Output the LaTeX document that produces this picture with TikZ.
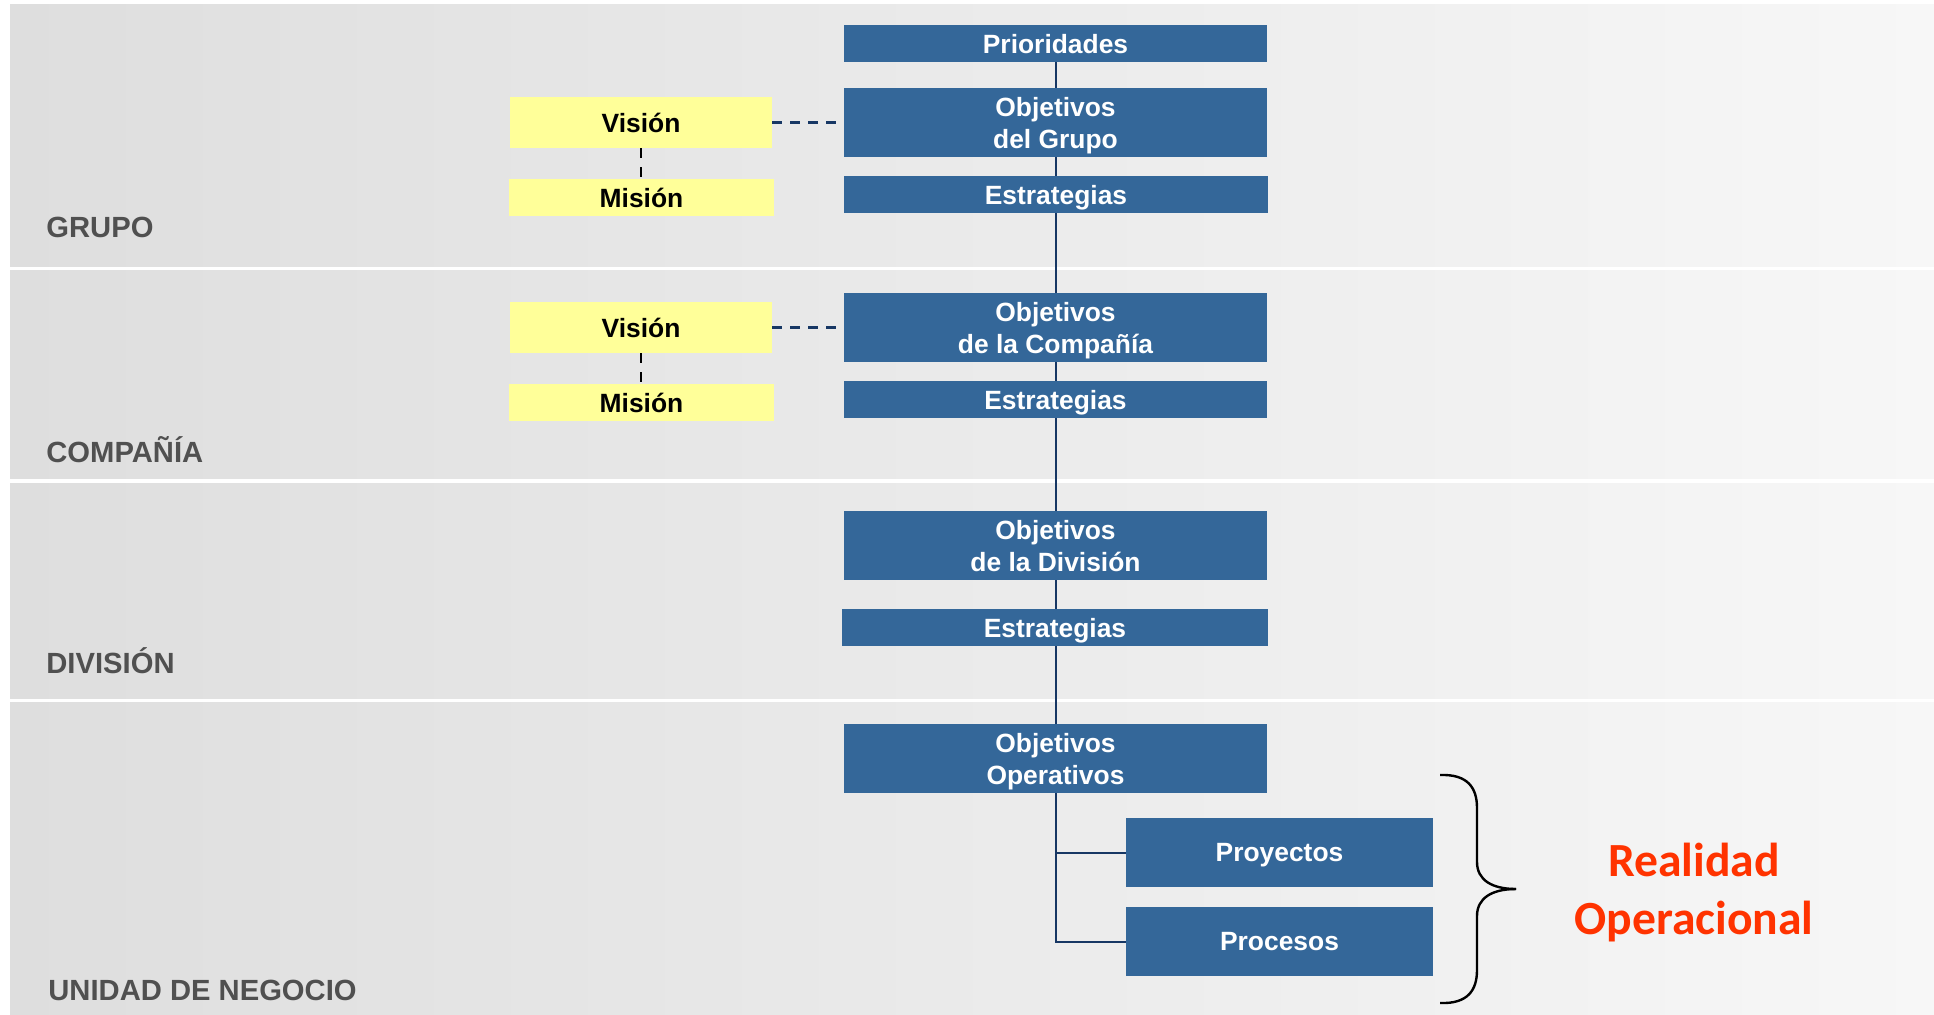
\documentclass[tikz,border=0pt]{standalone}
\usepackage{fontspec}
\setmainfont{Liberation Sans}
\newfontfamily\carl{Carlito}
\definecolor{boxblue}{RGB}{52,103,153}
\definecolor{boxyellow}{RGB}{255,255,153}
\definecolor{navy}{RGB}{23,55,100}
\definecolor{bandL}{RGB}{222,222,222}
\definecolor{bandR}{RGB}{247,247,247}
\definecolor{labgray}{RGB}{80,80,80}
\definecolor{realred}{RGB}{255,51,0}
\begin{document}
\begin{tikzpicture}[x=0.5pt,y=-0.5pt,
  band/.style={left color=bandL, right color=bandR, draw=none},
  bluebox/.style={fill=boxblue, text=white, font=\bfseries\fontsize{13.2}{16}\selectfont,
    align=center, inner sep=0pt, text depth=0pt, minimum width=211.5pt},
  yelbox/.style={fill=boxyellow, text=black, font=\bfseries\fontsize{13.2}{16}\selectfont,
    align=center, inner sep=0pt, text depth=0pt},
  bandlabel/.style={anchor=base west, inner sep=0pt, text=labgray, font=\bfseries\fontsize{14.6}{16}\selectfont},
  link/.style={draw=navy, line width=1pt},
  dashlink/.style={draw=navy, line width=1.5pt, dash pattern=on 5pt off 4pt},
  vdash/.style={draw=black, line width=0.9pt, dash pattern=on 5pt off 4.5pt},
  bracestyle/.style={draw=black, line width=1.2pt},
  realtext/.style={text=realred, font=\carl\bfseries\fontsize{23.8}{29}\selectfont, align=center, inner sep=0pt}
]
\useasboundingbox (0,0) rectangle (1934,1014);
\fill[white] (0,0) rectangle (1934,1014);
% bands
\fill[band] (10,4) rectangle (1934,266);
\fill[band] (10,270) rectangle (1934,478);
\fill[band] (10,483) rectangle (1934,698);
\fill[band] (10,702) rectangle (1934,1014);

% band labels
\node[bandlabel] (lg) at (46,237) {GRUPO};
\node[bandlabel] (lc) at (46,462) {COMPAÑÍA};
\node[bandlabel] (ld) at (46,673) {DIVISIÓN};
\node[bandlabel] (lu) at (48,1000) {UNIDAD DE NEGOCIO};

% central column
\node[bluebox, minimum height=18.5pt] (pri) at (1055.5,43.5) {Prioridades};
\node[bluebox, minimum height=34.5pt] (og) at (1055.5,122.5) {Objetivos\\del Grupo};
\node[bluebox, minimum height=18.5pt, minimum width=212pt] (e1) at (1056,194.5) {Estrategias};
\node[bluebox, minimum height=34.5pt] (oc) at (1055.5,327.5) {Objetivos\\de la Compañía};
\node[bluebox, minimum height=18.5pt] (e2) at (1055.5,399.5) {Estrategias};
\node[bluebox, minimum height=34.5pt] (od) at (1055.5,545.5) {Objetivos\\de la División};
\node[bluebox, minimum height=18.5pt, minimum width=213pt] (e3) at (1055,627.5) {Estrategias};
\node[bluebox, minimum height=34.5pt] (oo) at (1055.5,758.5) {Objetivos\\Operativos};
\node[bluebox, minimum height=34.5pt, minimum width=153.5pt] (proy) at (1279.5,852.5) {Proyectos};
\node[bluebox, minimum height=34.5pt, minimum width=153.5pt] (proc) at (1279.5,941.5) {Procesos};

% yellow boxes
\node[yelbox, minimum width=131pt, minimum height=25.5pt] (v1) at (641,122.5) {Visión};
\node[yelbox, minimum width=132.5pt, minimum height=18.5pt] (m1) at (641.5,197.5) {Misión};
\node[yelbox, minimum width=131pt, minimum height=25.5pt] (v2) at (641,327.5) {Visión};
\node[yelbox, minimum width=132.5pt, minimum height=18.5pt] (m2) at (641.5,402.5) {Misión};

% connectors
\draw[link] (pri.south) -- (og.north);
\draw[link] (og.south) -- (og.south |- e1.north);
\draw[link] (og.south |- e1.south) -- (og.south |- oc.north);
\draw[link] (oc.south) -- (oc.south |- e2.north);
\draw[link] (oc.south |- e2.south) -- (od.north);
\draw[link] (od.south) -- (od.south |- e3.north);
\draw[link] (od.south |- e3.south) -- (oo.north);
\draw[link] (oo.south) |- (proc.west);
\draw[link] (oo.south |- proy.west) -- (proy.west);

\draw[dashlink] (v1.east) -- (og.west);
\draw[dashlink] (v2.east) -- (oc.west);
\draw[vdash] (v1.south) -- (v1.south |- m1.north);
\draw[vdash] (v2.south) -- (v2.south |- m2.north);

% brace
\coordinate (btop) at (1440,775);
\coordinate (bbot) at (1440,1003);
\coordinate (btip) at (1516,889);
\draw[bracestyle] (btop) .. controls (1468,774) and (1477,788) .. (1477,808)
  -- (1477,862) .. controls (1477,880) and (1492,889) .. (btip);
\draw[bracestyle] (btip) .. controls (1492,889) and (1477,898) .. (1477,916)
  -- (1477,970) .. controls (1477,990) and (1468,1004) .. (bbot);

\node[realtext] (real) at (1694,893) {Realidad\\Operacional};
\end{tikzpicture}
\end{document}
